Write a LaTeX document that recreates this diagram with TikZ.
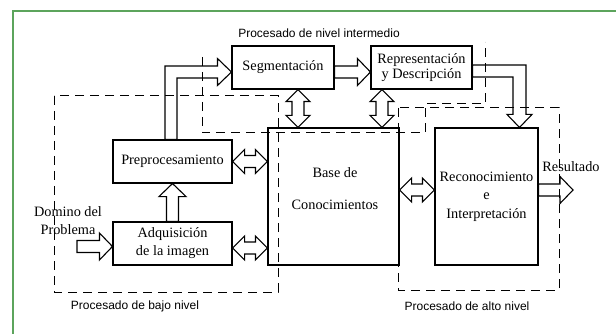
\documentclass[tikz,border=0pt]{standalone}
\usepackage{fontspec}
\setmainfont{Liberation Serif}
\newfontfamily\zonefont{Liberation Sans}
\usetikzlibrary{calc}
\definecolor{framegreen}{RGB}{92,164,92}
\newcommand{\boxfont}{\fontsize{14.3}{17}\selectfont}

\tikzset{
    box/.style={draw, line width=1.1pt, inner sep=0pt, align=center, font=\boxfont},
    zone/.style={line width=1pt, dash pattern=on 9pt off 6pt},
    zonelabel/.style={font=\zonefont\fontsize{12}{14}\selectfont},
    hollow/.style={draw, fill=white, line width=1.1pt, line join=miter,
        to path={($(\tikztotarget)!13pt!(\tikztostart)$) coordinate (hh)
            ($(\tikztostart)!6pt!90:(\tikztotarget)$) -- ($(hh)!6pt!90:(\tikztotarget)$)
            -- ($(hh)!13.5pt!90:(\tikztotarget)$) -- (\tikztotarget)
            -- ($(hh)!13.5pt!-90:(\tikztotarget)$) -- ($(hh)!6pt!-90:(\tikztotarget)$)
            -- ($(\tikztostart)!6pt!-90:(\tikztotarget)$) -- cycle}},
    twoway/.style={draw, fill=white, line width=1.1pt, line join=miter,
        to path={($(\tikztostart)!12pt!(\tikztotarget)$) coordinate (ha)
            ($(\tikztotarget)!12pt!(\tikztostart)$) coordinate (hb)
            (\tikztostart) -- ($(ha)!12pt!90:(\tikztotarget)$) -- ($(ha)!6pt!90:(\tikztotarget)$)
            -- ($(hb)!6pt!90:(\tikztotarget)$) -- ($(hb)!12pt!90:(\tikztotarget)$)
            -- (\tikztotarget) -- ($(hb)!12pt!-90:(\tikztotarget)$) -- ($(hb)!6pt!-90:(\tikztotarget)$)
            -- ($(ha)!6pt!-90:(\tikztotarget)$) -- ($(ha)!12pt!-90:(\tikztotarget)$) -- cycle}},
    bent/.style={draw, fill=white, line width=1.1pt, line join=miter}
    }

\begin{document}
\begin{tikzpicture}[x=1pt, y=-1pt]
    \useasboundingbox (0,0) rectangle (616,334);
    \fill[white] (0,0) rectangle (616,334);
    \draw[framegreen, line width=2pt] (13,334) |- (616,11);

    % The blocks
    \node[box, minimum width=102, minimum height=43] (seg) at (283,67.5) {Segmentación};
    \node[box, minimum width=101, minimum height=43] (rd) at (421.5,67.5) {Representación\\[-2pt]y Descripción};
    \node[box, minimum width=119, minimum height=43] (pre) at (172.5,161.5) {Preprocesamiento};
    \node[box, minimum width=119, minimum height=43] (adq) at (172.5,243.5) {Adquisición\\[1pt]de la imagen};
    \node[box, minimum width=131, minimum height=137] (base) at (333.5,196.5) {};
    \node[font=\boxfont, align=center] (basetxt) at (335,189) {Base de\\[15pt]Conocimientos};
    \node[box, minimum width=103, minimum height=137] (rec) at (486.5,196.5) {Reconocimiento\\[1.5pt]e\\[1.5pt]Interpretación};
    \node[font=\boxfont, align=center] (dom) at (68,221) {Domino del\\[1pt]Problema};
    \node[font=\boxfont] (res) at (571,167) {Resultado};

    % arrow ends
    \coordinate (pt) at ($(pre.north)+(-1.5,0)$);
    \coordinate (st) at ($(seg.west)+(0,4.5)$);
    \coordinate (sgr) at ($(seg.east)+(0,4.5)$);
    \coordinate (rdl) at ($(rd.west)+(0,4.5)$);
    \coordinate (rdr) at ($(rd.east)+(0,3.5)$);
    \coordinate (rct) at ($(rec.north)+(33,0)$);
    \coordinate (sgb) at ($(seg.south)+(15,0)$);
    \coordinate (rdb) at ($(rd.south)+(-39.5,0)$);
    \coordinate (adqr) at ($(adq.east)+(0,4.5)$);
    \coordinate (adqin) at ($(adq.west)+(0,3)$);
    \coordinate (bsr) at ($(base.east)+(0,-6.5)$);
    \coordinate (recl) at ($(rec.west)+(0,-6.5)$);
    \coordinate (recr) at ($(rec.east)+(0,-6.5)$);
    \coordinate (bpre) at (pre.east -| base.west);
    \coordinate (badq) at (adqr -| base.west);
    \coordinate (bsg) at (sgb |- base.north);
    \coordinate (brd) at (rdb |- base.north);
    \coordinate (domout) at (77,246.5);
    \coordinate (resout) at (573,190);

    % The arrows
    \draw[bent] ($(pt)+(-6,0)$) |- ($(st)+(-14,-6)$) -- ($(st)+(-14,-13.5)$) -- (st)
        -- ($(st)+(-14,13.5)$) -- ($(st)+(-14,6)$) -| ($(pt)+(6,0)$) -- cycle;
    \draw[bent] ($(rdr)+(0,-6)$) -| ($(rct)+(6.5,-13)$) -- ($(rct)+(12.5,-13)$) -- (rct)
        -- ($(rct)+(-12.5,-13)$) -- ($(rct)+(-6.5,-13)$) |- ($(rdr)+(0,6)$) -- cycle;
    \draw[hollow] (sgr) to (rdl);
    \draw[hollow] (adq.north) to (pre.south);
    \draw[hollow] (domout) to (adqin);
    \draw[hollow] (recr) to (resout);
    \draw[twoway] (pre.east) to (bpre);
    \draw[twoway] (adqr) to (badq);
    \draw[twoway] (bsr) to (recl);
    \draw[twoway] (sgb) to (bsg);
    \draw[twoway] (rdb) to (brd);

    % The levels
    \draw[zone] (54,96) rectangle (278,292);
    \draw[zone] (202,57) |- (425,133) |- (485,104) -- (485,42);
    \draw[zone] (398,108) rectangle (559,290);
    \node[zonelabel] (lblmid) at (319,33) {Procesado de nivel intermedio};
    \node[zonelabel] (lbllow) at (135,306) {Procesado de bajo nivel};
    \node[zonelabel] (lblhigh) at (467,306) {Procesado de alto nivel};
\end{tikzpicture}
\end{document}
